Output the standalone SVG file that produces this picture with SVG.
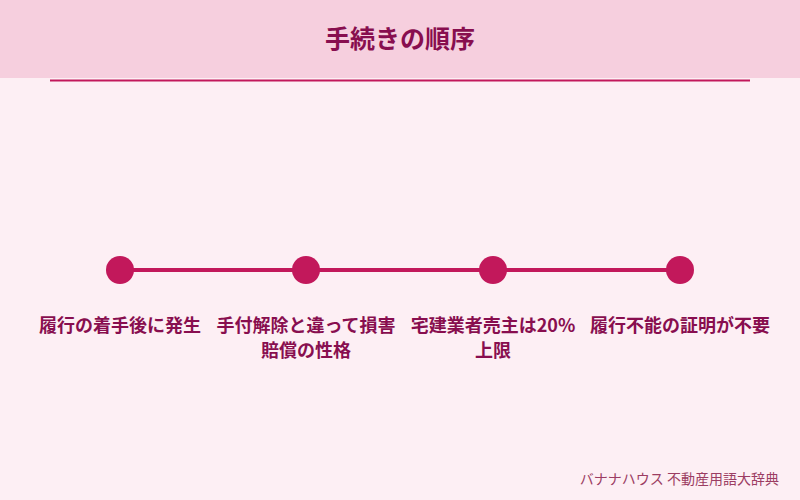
<svg xmlns="http://www.w3.org/2000/svg" width="800" height="500" viewBox="0 0 800 500">
<style>
.lbl{font-family:"Noto Sans CJK JP","Noto Sans",sans-serif;font-size:18px;font-weight:bold;fill:#880e4f;text-anchor:middle}
.dot{fill:#c2185b}
</style>
<rect width="800" height="500" fill="#fdeff4"/>
<rect width="800" height="78" fill="#f6cfde"/>
<text x="400" y="48" text-anchor="middle" font-family="Noto Sans CJK JP,sans-serif" font-size="25" font-weight="bold" fill="#880e4f">手続きの順序</text>
<rect x="50" y="79.5" width="700" height="2" fill="#c2185b"/>
<g id="connectors">
<line x1="120" y1="270" x2="680" y2="270" stroke="#c2185b" stroke-width="4"/>
</g>
<g id="n1"><circle class="dot" cx="120" cy="270" r="14"/><text class="lbl" x="120" y="332">履行の着手後に発生</text></g>
<g id="n2"><circle class="dot" cx="306" cy="270" r="14"/><text class="lbl" x="306" y="332">手付解除と違って損害</text><text class="lbl" x="306" y="357">賠償の性格</text></g>
<g id="n3"><circle class="dot" cx="493" cy="270" r="14"/><text class="lbl" x="493" y="332">宅建業者売主は20%</text><text class="lbl" x="493" y="357">上限</text></g>
<g id="n4"><circle class="dot" cx="680" cy="270" r="14"/><text class="lbl" x="680" y="332">履行不能の証明が不要</text></g>
<text x="779" y="484" text-anchor="end" font-family="Noto Sans CJK JP,sans-serif" font-size="14" fill="#9c3d63">バナナハウス 不動産用語大辞典</text>
</svg>
